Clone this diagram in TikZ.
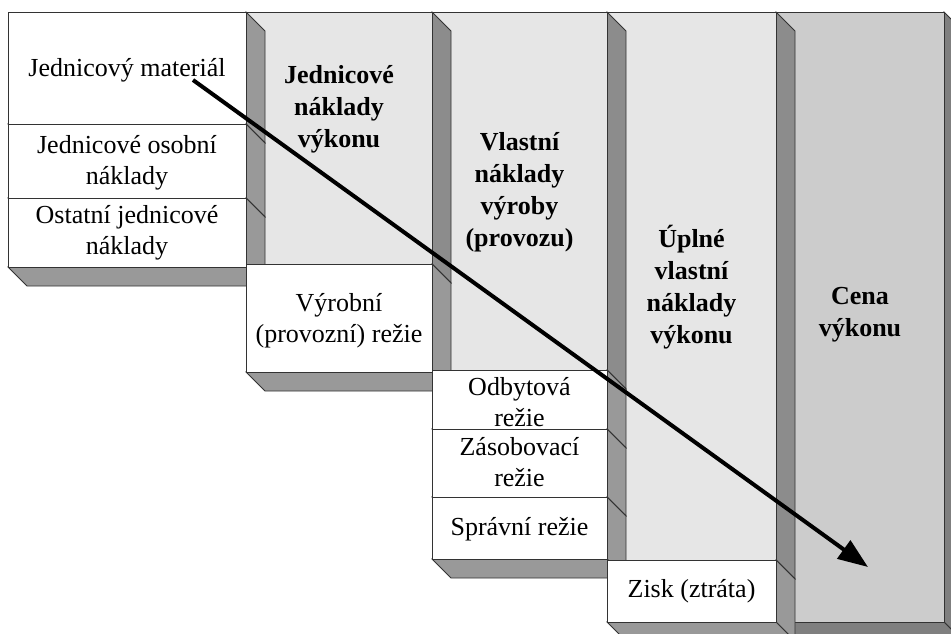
\documentclass[tikz,border=0pt]{standalone}
\usepackage{fontspec}
\setmainfont{Liberation Serif}
\usetikzlibrary{arrows.meta}

\definecolor{paleface}{HTML}{E6E6E6}
\definecolor{priceface}{HTML}{CCCCCC}
\definecolor{boxshade}{HTML}{999999}
\definecolor{colshade}{HTML}{8C8C8C}
\definecolor{priceshade}{HTML}{7F7F7F}

% Raised block: front face (x1,y1)-(x2,y2) with a right side face and a
% bottom face pushed 19 units to the back right.
% #1 x1, #2 y1, #3 x2, #4 y2, #5 front fill, #6 shade fill
\newcommand\raisedblock[6]{%
  \filldraw[edge, fill=#6] (#3,#2) -- ({#3+19},{#2+19}) -- ({#3+19},{#4+19}) -- (#3,#4) -- cycle;
  \filldraw[edge, fill=#6] (#1,#4) -- (#3,#4) -- ({#3+19},{#4+19}) -- ({#1+19},{#4+19}) -- cycle;
  \filldraw[edge, fill=#5] (#1,#2) rectangle (#3,#4);
}

\begin{document}
\begin{tikzpicture}[x=1pt, y=-1pt,
  edge/.style={draw=black!80, line width=0.8pt},
  item/.style={font=\fontsize{26}{31}\selectfont, align=center, inner sep=0pt},
  heading/.style={font=\fontsize{26}{32}\selectfont\bfseries, align=center, inner sep=0pt},
  flow/.style={line width=4pt, -{Triangle[length=30pt, width=22pt]}}]

\useasboundingbox (0,0) rectangle (951,634);
\clip (0,0) rectangle (951,634);

% shaded columns, from the back (right) to the front (left)
\raisedblock{776}{12}{944}{622}{priceface}{priceshade}
\raisedblock{607}{12}{776}{560}{paleface}{colshade}
\raisedblock{432}{12}{607}{370}{paleface}{colshade}
\raisedblock{246}{12}{432}{264}{paleface}{colshade}

% white cost items, stacked left to right
\raisedblock{8}{12}{246}{124}{white}{boxshade}
\raisedblock{8}{124}{246}{198}{white}{boxshade}
\raisedblock{8}{198}{246}{267}{white}{boxshade}
\raisedblock{246}{264}{432}{372}{white}{boxshade}
\raisedblock{432}{370}{607}{429}{white}{boxshade}
\raisedblock{432}{429}{607}{497}{white}{boxshade}
\raisedblock{432}{497}{607}{559}{white}{boxshade}
\raisedblock{607}{560}{776}{622}{white}{boxshade}

% item labels
\node[item] (material) at (127,70) {Jednicový materiál};
\node[item] (personal) at (127,162.3) {Jednicové osobní\\náklady};
\node[item] (otherdirect) at (127,232.3) {Ostatní jednicové\\náklady};
\node[item] (production) at (339,320.8) {Výrobní\\(provozní) režie};
\node[item] (sales) at (519.5,401.7) {Odbytová\\režie};
\node[item] (supply) at (519.5,462) {Zásobovací\\režie};
\node[item] (admin) at (519.5,528.8) {Správní režie};
\node[item] (profit) at (691.5,591.3) {Zisk (ztráta)};

% column headings
\node[heading] (unitcost) at (339,108.8) {Jednicové\\náklady\\výkonu};
\node[heading] (owncost) at (519.5,191.8) {Vlastní\\náklady\\výroby\\(provozu)};
\node[heading] (fullcost) at (691.5,286.8) {Úplné\\vlastní\\náklady\\výkonu};
\node[heading] (price) at (860,315) {Cena\\výkonu};

% build-up arrow
\coordinate (flowstart) at (193,80);
\coordinate (flowend) at (868,567);
\draw[flow] (flowstart) -- (flowend);

\end{tikzpicture}
\end{document}
